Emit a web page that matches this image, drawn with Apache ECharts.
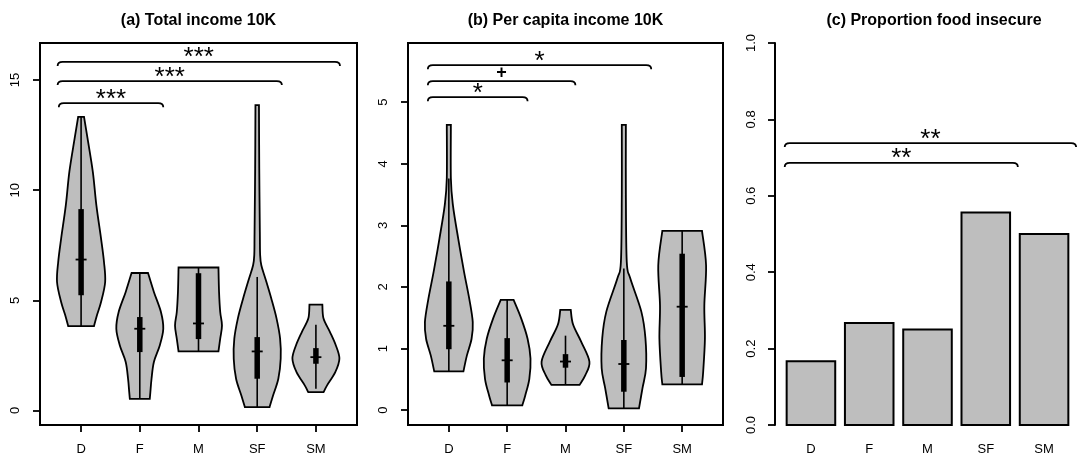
<!DOCTYPE html>
<html>
<head>
<meta charset="utf-8">
<script src="https://cdn.jsdelivr.net/npm/echarts@6/dist/echarts.min.js"></script>
<style>
html, body { margin: 0; padding: 0; background: #fff; }
#chart { width: 1080px; height: 456px; }
</style>
</head>
<body>
<div id="chart"></div>
<script>
const groups = ['D', 'F', 'M', 'SF', 'SM']

// (a) Total income 10K: violin outline levels (y) and half widths (x units)
const totalLevels = [
    [3.83, 4.32, 4.92, 5.83, 6.74, 7.8, 9.32, 10.83, 12.35, 13.33],
    [0.53, 0.83, 1.44, 2.2, 2.95, 3.71, 4.47, 5.38, 6.24],
    [2.68, 3.26, 3.86, 4.47, 5.38, 6.49],
    [0.15, 0.68, 1.44, 2.35, 3.26, 4.17, 5.08, 5.98, 6.59, 7.05, 8.1, 11, 13.86],
    [0.83, 1.14, 1.74, 2.35, 2.95, 3.56, 4.17, 4.8],
]
const totalHalfWidths = [
    [0.22, 0.27, 0.34, 0.41, 0.39, 0.34, 0.26, 0.2, 0.11, 0.05],
    [0.17, 0.18, 0.2, 0.24, 0.34, 0.4, 0.36, 0.24, 0.14],
    [0.34, 0.37, 0.4, 0.37, 0.35, 0.34],
    [0.21, 0.27, 0.36, 0.4, 0.39, 0.33, 0.24, 0.14, 0.07, 0.05, 0.045, 0.035, 0.03],
    [0.13, 0.19, 0.33, 0.4, 0.34, 0.24, 0.13, 0.11],
]
// lower whisker, q1, median, q3, upper whisker
const totalBoxes = [
    [3.83, 5.23, 6.85, 9.14, 13.33],
    [0.53, 2.65, 3.71, 4.24, 6.24],
    [2.68, 3.24, 3.95, 6.23, 6.49],
    [0.15, 1.44, 2.68, 3.33, 6.06],
    [0.99, 2.12, 2.42, 2.83, 3.89],
]
const totalBracketFrom = [0.62, 0.6, 0.6]
const totalBracketTo = [2.4, 4.42, 5.41]
const totalBracketY = [13.95, 14.95, 15.82]
const totalBracketLabels = ['***', '***', '***']

// (b) Per capita income 10K
const perCapitaLevels = [
    [0.63, 0.89, 1.16, 1.43, 1.81, 2.25, 2.79, 3.33, 3.76, 4.63],
    [0.08, 0.24, 0.51, 0.84, 1.16, 1.49, 1.79],
    [0.41, 0.57, 0.79, 1.11, 1.39, 1.63],
    [0.03, 0.36, 0.68, 1.17, 1.6, 2.14, 2.41, 3.5, 4.63],
    [0.42, 0.62, 1.16, 1.7, 2.35, 2.91],
]
const perCapitaHalfWidths = [
    [0.25, 0.31, 0.39, 0.41, 0.35, 0.26, 0.16, 0.07, 0.035, 0.035],
    [0.26, 0.31, 0.38, 0.4, 0.35, 0.24, 0.11],
    [0.24, 0.34, 0.41, 0.27, 0.13, 0.09],
    [0.26, 0.32, 0.38, 0.37, 0.3, 0.11, 0.05, 0.035, 0.035],
    [0.34, 0.36, 0.39, 0.38, 0.41, 0.34],
]
const perCapitaBoxes = [
    [0.63, 0.99, 1.37, 2.09, 3.76],
    [0.08, 0.45, 0.81, 1.17, 1.79],
    [0.41, 0.69, 0.79, 0.91, 1.21],
    [0.03, 0.3, 0.75, 1.14, 2.3],
    [0.42, 0.54, 1.68, 2.54, 2.91],
]
const perCapitaBracketFrom = [0.64, 0.64, 0.64]
const perCapitaBracketTo = [2.35, 3.17, 4.47]
const perCapitaBracketY = [5.08, 5.34, 5.6]
const perCapitaBracketLabels = ['*', '+', '*']

// (c) Proportion food insecure
const foodInsecure = [0.167, 0.267, 0.25, 0.556, 0.5]
const foodBracketFrom = [0.16, 0.16]
const foodBracketTo = [4.96, 6.16]
const foodBracketY = [0.686, 0.738]
const foodBracketLabels = ['**', '**']

const titles = ['(a) Total income 10K', '(b) Per capita income 10K', '(c) Proportion food insecure']

const FILL = '#bebebe'
const LW = 1.8
const barCenters = groups.map((g, i) => 0.7 + 1.2 * i)

const smoothSide = pts => {
    let d = ''
    for (let i = 0; i < pts.length - 1; i++) {
        const p0 = pts[i - 1] || pts[i]
        const p1 = pts[i]
        const p2 = pts[i + 1]
        const p3 = pts[i + 2] || pts[i + 1]
        const c1 = [p1[0] + (p2[0] - p0[0]) / 6, p1[1] + (p2[1] - p0[1]) / 6]
        const c2 = [p2[0] - (p3[0] - p1[0]) / 6, p2[1] - (p3[1] - p1[1]) / 6]
        d += `C${c1[0]},${c1[1]} ${c2[0]},${c2[1]} ${p2[0]},${p2[1]}`
    }
    return d
}

const violinSeries = (axisIndex, levels, widths, boxes) => ({
    type: 'custom',
    xAxisIndex: axisIndex,
    yAxisIndex: axisIndex,
    data: groups.map((g, i) => [i + 1, boxes[i][2]]),
    renderItem: (params, api) => {
        const i = params.dataIndex
        const x = i + 1
        const lv = levels[i]
        const hw = widths[i]
        const b = boxes[i]
        const left = lv.map((y, k) => api.coord([x - hw[k], y]))
        const right = lv.map((y, k) => api.coord([x + hw[k], y])).reverse()
        const d = `M${left[0][0]},${left[0][1]}` + smoothSide(left) +
            `L${right[0][0]},${right[0][1]}` + smoothSide(right) + 'Z'
        const lo = api.coord([x, b[0]])
        const q1 = api.coord([x, b[1]])
        const med = api.coord([x, b[2]])
        const q3 = api.coord([x, b[3]])
        const hi = api.coord([x, b[4]])
        return {
            type: 'group',
            children: [
                { type: 'path', shape: { pathData: d }, style: { fill: FILL, stroke: '#000', lineWidth: LW } },
                { type: 'line', shape: { x1: lo[0], y1: lo[1], x2: hi[0], y2: hi[1] }, style: { stroke: '#000', lineWidth: 1.6 } },
                { type: 'line', shape: { x1: q1[0], y1: q1[1], x2: q3[0], y2: q3[1] }, style: { stroke: '#000', lineWidth: 5.5 } },
                { type: 'line', shape: { x1: med[0] - 5.5, y1: med[1], x2: med[0] + 5.5, y2: med[1] }, style: { stroke: '#000', lineWidth: 1.8 } },
            ],
        }
    },
})

const bracketSeries = (axisIndex, from, to, ys, labels) => ({
    type: 'custom',
    xAxisIndex: axisIndex,
    yAxisIndex: axisIndex,
    data: ys.map((y, i) => [from[i], y]),
    renderItem: (params, api) => {
        const i = params.dataIndex
        const a = api.coord([from[i], ys[i]])
        const b = api.coord([to[i], ys[i]])
        const m = api.coord([(from[i] + to[i]) / 2, ys[i]])
        const d = `M${a[0]},${a[1] + 4}Q${a[0]},${a[1]} ${a[0] + 5},${a[1]}` +
            `L${b[0] - 5},${b[1]}Q${b[0]},${b[1]} ${b[0]},${b[1] + 4}`
        const isPlus = labels[i] === '+'
        const size = isPlus ? 18 : 26
        return {
            type: 'group',
            children: [
                { type: 'path', shape: { pathData: d }, style: { fill: null, stroke: '#000', lineWidth: LW } },
                {
                    type: 'text',
                    x: m[0],
                    y: m[1] - (isPlus ? 8 : 9 - 0.205 * size),
                    style: {
                        text: labels[i],
                        textAlign: 'center',
                        textVerticalAlign: 'middle',
                        font: `${isPlus ? 'bold ' : ''}${size}px "Liberation Sans", Arial, sans-serif`,
                        fill: '#000',
                    },
                },
            ],
        }
    },
})

const barSeries = {
    type: 'custom',
    xAxisIndex: 2,
    yAxisIndex: 2,
    data: foodInsecure.map((v, i) => [barCenters[i], v]),
    renderItem: (params, api) => {
        const x = api.value(0)
        const tl = api.coord([x - 0.5, api.value(1)])
        const br = api.coord([x + 0.5, 0])
        return {
            type: 'rect',
            shape: { x: tl[0], y: tl[1], width: br[0] - tl[0], height: br[1] - tl[1] },
            style: { fill: FILL, stroke: '#000', lineWidth: 2 },
        }
    },
}

const labelFont = { color: '#000', fontSize: 13, fontFamily: '"Liberation Sans", Arial, sans-serif' }
const tickStyle = { show: true, length: 7, lineStyle: { color: '#000', width: LW } }

const violinXAxis = gridIndex => ({
    gridIndex,
    type: 'value',
    min: 0.3,
    max: 5.7,
    axisLine: { show: false, onZero: false },
    splitLine: { show: false },
    axisTick: { ...tickStyle, customValues: [1, 2, 3, 4, 5] },
    axisLabel: {
        ...labelFont,
        margin: 18,
        customValues: [1, 2, 3, 4, 5],
        formatter: v => groups[Math.round(v) - 1],
    },
})

const violinYAxis = (gridIndex, min, max, ticks) => ({
    gridIndex,
    type: 'value',
    min,
    max,
    axisLine: { show: false, onZero: false },
    splitLine: { show: false },
    axisTick: { ...tickStyle, customValues: ticks },
    axisLabel: { ...labelFont, rotate: 90, margin: 18, customValues: ticks },
})

const chart = echarts.init(document.getElementById('chart'), null, { renderer: 'canvas' })
chart.setOption({
    animation: false,
    backgroundColor: '#fff',
    grid: [
        { left: 40, top: 43, width: 317, height: 382, show: true, borderColor: '#000', borderWidth: 2, backgroundColor: 'transparent' },
        { left: 408, top: 43, width: 315, height: 382, show: true, borderColor: '#000', borderWidth: 2, backgroundColor: 'transparent' },
        { left: 775, top: 43, width: 318, height: 382 },
    ],
    xAxis: [
        violinXAxis(0),
        violinXAxis(1),
        {
            gridIndex: 2,
            type: 'value',
            min: -0.04,
            max: 6.24,
            axisLine: { show: false, onZero: false },
            splitLine: { show: false },
            axisTick: { show: false },
            axisLabel: {
                ...labelFont,
                margin: 18,
                customValues: barCenters,
                formatter: v => groups[Math.round((v - 0.7) / 1.2)],
            },
        },
    ],
    yAxis: [
        violinYAxis(0, -0.66, 16.68, [0, 5, 10, 15]),
        violinYAxis(1, -0.24, 5.96, [0, 1, 2, 3, 4, 5]),
        {
            gridIndex: 2,
            type: 'value',
            min: 0,
            max: 1,
            interval: 0.2,
            axisLine: { show: true, onZero: false, lineStyle: { color: '#000', width: 2 } },
            splitLine: { show: false },
            axisTick: tickStyle,
            axisLabel: { ...labelFont, rotate: 90, margin: 17, formatter: v => v.toFixed(1) },
        },
    ],
    graphic: titles.map((t, i) => ({
        type: 'text',
        x: [198.5, 565.5, 934][i],
        y: 21,
        style: {
            text: t,
            textAlign: 'center',
            textVerticalAlign: 'middle',
            font: 'bold 16px "Liberation Sans", Arial, sans-serif',
            fill: '#000',
        },
    })),
    series: [
        violinSeries(0, totalLevels, totalHalfWidths, totalBoxes),
        violinSeries(1, perCapitaLevels, perCapitaHalfWidths, perCapitaBoxes),
        barSeries,
        bracketSeries(0, totalBracketFrom, totalBracketTo, totalBracketY, totalBracketLabels),
        bracketSeries(1, perCapitaBracketFrom, perCapitaBracketTo, perCapitaBracketY, perCapitaBracketLabels),
        bracketSeries(2, foodBracketFrom, foodBracketTo, foodBracketY, foodBracketLabels),
    ],
})
</script>
</body>
</html>
